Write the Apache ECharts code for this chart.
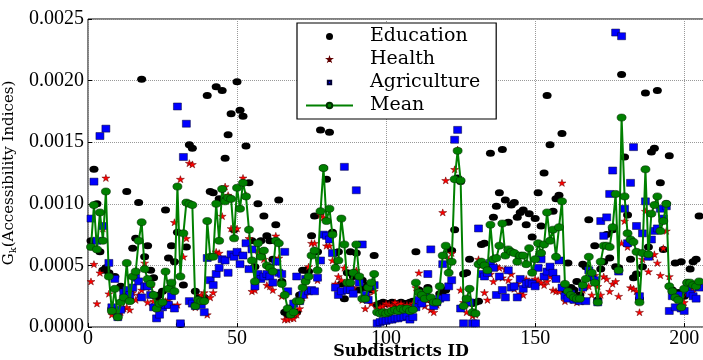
<!DOCTYPE html>
<html>
<head>
<meta charset="utf-8">
<script src="https://cdn.jsdelivr.net/npm/echarts/dist/echarts.min.js"></script>
<style>
  html, body { margin: 0; padding: 0; background: #fff; }
  #chart { width: 703px; height: 360px; }
</style>
</head>
<body>
<div id="chart"></div>
<script>
// accessibility indices per subdistrict (ids 1..205)
var education = [
  0.00070,0.00128,0.00100,0.00061,0.00046,0.00048,0.00044,0.00015,0.00041,0.00009,
  0.00033,0.00030,0.00110,0.00022,0.00064,0.00072,0.00101,0.00201,0.00057,0.00066,
  0.00046,0.00040,0.00024,0.00026,0.00029,0.00095,0.00056,0.00066,0.00053,0.00077,
  0.00002,0.00034,0.00065,0.00148,0.00145,0.00029,0.00024,0.00020,0.00024,0.00188,
  0.00110,0.00109,0.00195,0.00104,0.00192,0.00137,0.00156,0.00173,0.00079,0.00199,
  0.00176,0.00171,0.00147,0.00117,0.00070,0.00049,0.00100,0.00070,0.00090,0.00074,
  0.00070,0.00055,0.00083,0.00103,0.00037,0.00012,0.00010,0.00009,0.00010,0.00012,
  0.00026,0.00046,0.00046,0.00045,0.00074,0.00090,0.00061,0.00160,0.00129,0.00120,
  0.00158,0.00077,0.00060,0.00061,0.00035,0.00023,0.00044,0.00061,0.00041,0.00060,
  0.00030,0.00038,0.00032,0.00034,0.00030,0.00058,0.00018,0.00019,0.00020,0.00019,
  0.00019,0.00020,0.00019,0.00018,0.00020,0.00019,0.00019,0.00020,0.00021,0.00061,
  0.00030,0.00026,0.00024,0.00032,0.00022,0.00018,0.00021,0.00027,0.00029,0.00030,
  0.00063,0.00062,0.00079,0.00121,0.00118,0.00043,0.00044,0.00055,0.00019,0.00020,
  0.00021,0.00067,0.00068,0.00050,0.00141,0.00089,0.00098,0.00109,0.00144,0.00103,
  0.00085,0.00099,0.00101,0.00089,0.00093,0.00095,0.00083,0.00092,0.00073,0.00088,
  0.00109,0.00082,0.00125,0.00188,0.00148,0.00094,0.00104,0.00107,0.00157,0.00030,
  0.00052,0.00032,0.00030,0.00037,0.00026,0.00051,0.00049,0.00087,0.00040,0.00066,
  0.00022,0.00047,0.00053,0.00075,0.00056,0.00079,0.00049,0.00048,0.00205,0.00138,
  0.00091,0.00055,0.00040,0.00043,0.00023,0.00049,0.00190,0.00065,0.00142,0.00145,
  0.00192,0.00117,0.00063,0.00100,0.00139,0.00030,0.00052,0.00028,0.00053,0.00025,
  0.00036,0.00047,0.00053,0.00055,0.00090
];
var health = [
  0.00037,0.00051,0.00019,0.00044,0.00080,0.00121,0.00027,0.00010,0.00013,0.00008,
  0.00012,0.00015,0.00016,0.00014,0.00028,0.00022,0.00026,0.00030,0.00052,0.00020,
  0.00032,0.00021,0.00015,0.00020,0.00016,0.00021,0.00022,0.00018,0.00085,0.00018,
  0.00120,0.00057,0.00072,0.00133,0.00132,0.00016,0.00021,0.00026,0.00028,0.00010,
  0.00024,0.00028,0.00061,0.00060,0.00090,0.00114,0.00107,0.00080,0.00079,0.00080,
  0.00060,0.00121,0.00107,0.00072,0.00029,0.00030,0.00062,0.00061,0.00055,0.00034,
  0.00033,0.00030,0.00074,0.00056,0.00025,0.00006,0.00006,0.00007,0.00007,0.00010,
  0.00015,0.00024,0.00026,0.00049,0.00068,0.00068,0.00038,0.00091,0.00089,0.00066,
  0.00066,0.00054,0.00035,0.00041,0.00038,0.00048,0.00034,0.00030,0.00032,0.00046,
  0.00042,0.00022,0.00015,0.00026,0.00019,0.00029,0.00015,0.00016,0.00017,0.00019,
  0.00018,0.00017,0.00020,0.00018,0.00019,0.00016,0.00018,0.00017,0.00019,0.00032,
  0.00044,0.00020,0.00017,0.00022,0.00014,0.00012,0.00018,0.00024,0.00093,0.00119,
  0.00055,0.00060,0.00128,0.00144,0.00030,0.00020,0.00012,0.00019,0.00009,0.00010,
  0.00055,0.00050,0.00028,0.00022,0.00043,0.00037,0.00049,0.00048,0.00040,0.00047,
  0.00038,0.00043,0.00031,0.00035,0.00027,0.00026,0.00039,0.00035,0.00045,0.00039,
  0.00038,0.00036,0.00034,0.00037,0.00041,0.00030,0.00029,0.00029,0.00117,0.00021,
  0.00024,0.00028,0.00022,0.00020,0.00021,0.00030,0.00033,0.00033,0.00026,0.00042,
  0.00033,0.00026,0.00041,0.00039,0.00029,0.00035,0.00037,0.00025,0.00068,0.00086,
  0.00065,0.00032,0.00031,0.00029,0.00012,0.00055,0.00094,0.00045,0.00057,0.00059,
  0.00052,0.00042,0.00064,0.00078,0.00041,0.00030,0.00027,0.00022,0.00024,0.00020,
  0.00028,0.00031,0.00029,0.00034,0.00036
];
var agriculture = [
  0.00088,0.00118,0.00070,0.00155,0.00082,0.00161,0.00052,0.00016,0.00039,0.00008,
  0.00014,0.00028,0.00030,0.00026,0.00032,0.00040,0.00037,0.00024,0.00033,0.00033,
  0.00026,0.00016,0.00007,0.00010,0.00016,0.00018,0.00018,0.00025,0.00015,0.00179,
  0.00003,0.00138,0.00165,0.00021,0.00019,0.00017,0.00020,0.00018,0.00012,0.00056,
  0.00038,0.00034,0.00043,0.00048,0.00055,0.00054,0.00044,0.00059,0.00057,0.00061,
  0.00051,0.00058,0.00068,0.00047,0.00063,0.00033,0.00043,0.00039,0.00041,0.00043,
  0.00041,0.00036,0.00053,0.00044,0.00043,0.00061,0.00029,0.00015,0.00019,0.00041,
  0.00021,0.00026,0.00039,0.00029,0.00030,0.00029,0.00040,0.00054,0.00075,0.00074,
  0.00071,0.00060,0.00032,0.00026,0.00029,0.00130,0.00030,0.00030,0.00027,0.00111,
  0.00036,0.00067,0.00026,0.00022,0.00033,0.00034,0.00003,0.00004,0.00005,0.00005,
  0.00006,0.00006,0.00007,0.00007,0.00008,0.00008,0.00009,0.00006,0.00008,0.00016,
  0.00022,0.00019,0.00026,0.00043,0.00063,0.00017,0.00020,0.00023,0.00051,0.00024,
  0.00033,0.00038,0.00152,0.00160,0.00015,0.00003,0.00022,0.00020,0.00003,0.00003,
  0.00080,0.00043,0.00041,0.00044,0.00052,0.00048,0.00026,0.00041,0.00030,0.00024,
  0.00046,0.00032,0.00033,0.00024,0.00039,0.00031,0.00035,0.00036,0.00035,0.00033,
  0.00048,0.00055,0.00041,0.00045,0.00049,0.00044,0.00039,0.00054,0.00032,0.00025,
  0.00023,0.00027,0.00022,0.00023,0.00021,0.00032,0.00021,0.00046,0.00041,0.00038,
  0.00020,0.00086,0.00074,0.00089,0.00108,0.00127,0.00239,0.00045,0.00236,0.00096,
  0.00068,0.00117,0.00146,0.00082,0.00025,0.00076,0.00102,0.00057,0.00071,0.00078,
  0.00080,0.00096,0.00088,0.00098,0.00013,0.00025,0.00016,0.00026,0.00015,0.00013,
  0.00030,0.00027,0.00025,0.00023,0.00032
];
var mean = [
  0.00065,0.00099,0.00063,0.00093,0.00070,0.00110,0.00041,0.00013,0.00031,0.00008,
  0.00020,0.00024,0.00052,0.00021,0.00041,0.00045,0.00070,0.00085,0.00047,0.00039,
  0.00035,0.00026,0.00015,0.00019,0.00020,0.00045,0.00031,0.00036,0.00029,0.00114,
  0.00041,0.00076,0.00101,0.00100,0.00099,0.00017,0.00022,0.00021,0.00021,0.00086,
  0.00057,0.00057,0.00100,0.00070,0.00112,0.00102,0.00105,0.00104,0.00072,0.00113,
  0.00096,0.00117,0.00106,0.00079,0.00054,0.00037,0.00068,0.00057,0.00062,0.00050,
  0.00048,0.00045,0.00070,0.00068,0.00035,0.00026,0.00015,0.00010,0.00012,0.00021,
  0.00021,0.00032,0.00037,0.00041,0.00058,0.00062,0.00046,0.00094,0.00129,0.00086,
  0.00096,0.00075,0.00048,0.00054,0.00088,0.00067,0.00036,0.00036,0.00044,0.00067,
  0.00041,0.00023,0.00023,0.00032,0.00036,0.00043,0.00012,0.00011,0.00012,0.00011,
  0.00012,0.00013,0.00014,0.00013,0.00015,0.00014,0.00015,0.00013,0.00014,0.00036,
  0.00028,0.00026,0.00023,0.00030,0.00024,0.00020,0.00020,0.00033,0.00058,0.00066,
  0.00044,0.00053,0.00120,0.00143,0.00119,0.00017,0.00023,0.00031,0.00012,0.00011,
  0.00051,0.00053,0.00050,0.00046,0.00083,0.00055,0.00056,0.00066,0.00084,0.00058,
  0.00063,0.00061,0.00060,0.00053,0.00058,0.00058,0.00051,0.00064,0.00044,0.00055,
  0.00068,0.00060,0.00067,0.00093,0.00070,0.00079,0.00057,0.00081,0.00102,0.00035,
  0.00029,0.00026,0.00024,0.00023,0.00023,0.00034,0.00039,0.00057,0.00044,0.00036,
  0.00020,0.00053,0.00066,0.00066,0.00065,0.00081,0.00108,0.00046,0.00170,0.00106,
  0.00076,0.00071,0.00069,0.00061,0.00020,0.00060,0.00128,0.00059,0.00092,0.00099,
  0.00106,0.00078,0.00086,0.00100,0.00033,0.00029,0.00024,0.00022,0.00016,0.00031,
  0.00036,0.00036,0.00034,0.00033,0.00037
];

// subdistrict ids start at 1
function pairs(vals) {
  return vals.map(function (v, i) { return [i + 1, v]; });
}

var serif = 'DejaVu Serif';
var numFont = 'Liberation Serif';
var starPath = 'path://M50,0 L61,35 L98,35 L68,57 L79,91 L50,70 L21,91 L32,57 L2,35 L39,35 Z';
// legend icons: small glyph inside an empty frame so the legend keeps them small
var starIcon = 'path://M0,0 L0.01,0 Z M200,200 L199.99,200 Z M100,60 L109,87 L138,87 L114,104 L123,131 L100,115 L77,131 L86,104 L62,87 L91,87 Z';
var squareIcon = 'path://M0,0 L0.01,0 Z M200,200 L199.99,200 Z M52,52 L148,52 L148,148 L52,148 Z';

var chart = echarts.init(document.getElementById('chart'));
chart.setOption({
  animation: false,
  backgroundColor: '#fff',
  grid: {
    left: 88, top: 19, right: -11, bottom: 33,
    outerBoundsMode: 'none', containLabel: false,
    show: true, borderColor: '#000', borderWidth: 1
  },
  legend: {
    orient: 'vertical',
    left: 297, top: 23,
    padding: [4, 16, 4, 8],
    itemWidth: 47, itemHeight: 7, itemGap: 4,
    symbolKeepAspect: true,
    backgroundColor: '#fff',
    borderColor: '#000', borderWidth: 1.2, borderRadius: 0,
    textStyle: { fontFamily: serif, fontSize: 19, color: '#000', lineHeight: 19, padding: [0, 0, 0, 12] },
    data: [
      { name: 'Education', icon: 'circle' },
      { name: 'Health', icon: starIcon },
      { name: 'Agriculture', icon: squareIcon },
      { name: 'Mean' }
    ]
  },
  xAxis: {
    type: 'value', min: 0, max: 210, interval: 50,
    name: 'Subdistricts ID', nameLocation: 'middle', nameGap: 17, nameMoveOverlap: false,
    nameTextStyle: { fontFamily: serif, fontWeight: 'bold', fontSize: 16, color: '#000' },
    axisLine: { show: false },
    axisTick: { inside: true, length: 4, lineStyle: { color: '#000' } },
    axisLabel: { fontFamily: numFont, fontSize: 20, color: '#000', margin: 2, showMaxLabel: false },
    splitLine: { show: true, lineStyle: { type: 'dotted', color: '#999', width: 1 } }
  },
  yAxis: {
    type: 'value', min: 0, max: 0.0025, interval: 0.0005,
    name: '{a|G}{b|k}{a|(Accessibility Indices)}', nameLocation: 'middle', nameGap: 70, nameMoveOverlap: false,
    nameTextStyle: {
      color: '#000',
      rich: {
        a: { fontFamily: serif, fontSize: 15, color: '#000', lineHeight: 18 },
        b: { fontFamily: serif, fontSize: 10, color: '#000', verticalAlign: 'bottom', lineHeight: 18 }
      }
    },
    axisLine: { show: false },
    axisTick: { inside: true, length: 4, lineStyle: { color: '#000' } },
    axisLabel: {
      fontFamily: numFont, fontSize: 20, color: '#000', margin: 4,
      formatter: function (v) { return v.toFixed(4); }
    },
    splitLine: { show: true, lineStyle: { type: 'dotted', color: '#999', width: 1 } }
  },
  series: [
    {
      name: 'Education', type: 'scatter', symbol: 'circle', symbolSize: [9, 7],
      itemStyle: { color: '#000', opacity: 1 },
      data: pairs(education)
    },
    {
      name: 'Health', type: 'scatter', symbol: starPath, symbolSize: [8, 7],
      itemStyle: { color: '#ff0000', borderColor: '#600000', borderWidth: 0.5, opacity: 1 },
      data: pairs(health)
    },
    {
      name: 'Agriculture', type: 'scatter', symbol: 'rect', symbolSize: [8, 7],
      itemStyle: { color: '#0000ff', borderColor: '#000030', borderWidth: 0.5, opacity: 1 },
      data: pairs(agriculture)
    },
    {
      name: 'Mean', type: 'line', symbol: 'circle', symbolSize: [9, 7], showAllSymbol: true,
      lineStyle: { color: '#008000', width: 2 },
      itemStyle: { color: '#008000', borderColor: '#003000', borderWidth: 0.6 },
      data: pairs(mean)
    }
  ]
});
</script>
</body>
</html>
